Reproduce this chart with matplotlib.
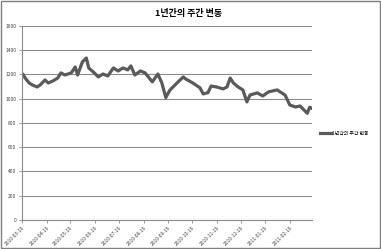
import matplotlib
matplotlib.use("Agg")
import matplotlib.pyplot as plt
import matplotlib.dates as mdates
import numpy as np
import datetime as dt

plt.rcParams['font.family'] = ['Noto Sans CJK KR', 'DejaVu Sans']

title = "1년간의 주간 변동"
series_name = "1년간의 주간 변동"
start_date = "2010-03-19"
day_offsets = [0, 1, 4, 9, 13, 19, 23, 29, 33, 39, 45, 49, 54, 62, 67, 70, 76, 81, 84, 91,
               96, 102, 108, 115, 121, 127, 133, 137, 142, 149, 155, 164, 171, 176, 181, 186,
               195, 203, 206, 215, 224, 228, 234, 238, 245, 253, 258, 262, 266, 272, 278, 283,
               287, 296, 303, 310, 321, 325, 331, 337, 344, 350, 359, 362, 365]
values = [1200, 1204, 1171, 1130, 1114, 1097, 1114, 1155, 1130, 1147, 1171, 1213, 1196, 1213,
          1262, 1196, 1304, 1336, 1254, 1213, 1180, 1204, 1188, 1254, 1229, 1254, 1238, 1271,
          1196, 1229, 1213, 1139, 1204, 1130, 1010, 1070, 1130, 1180, 1163, 1130, 1090, 1040,
          1050, 1105, 1097, 1081, 1097, 1171, 1130, 1097, 1073, 974, 1031, 1048, 1023, 1056,
          1073, 1056, 1031, 949, 932, 940, 880, 930, 920]
tick_labels = ["2010-03-19", "2010-04-19", "2010-05-19", "2010-06-19", "2010-07-19",
               "2010-08-19", "2010-09-19", "2010-10-19", "2010-11-19", "2010-12-19",
               "2011-01-19", "2011-02-19"]
y_ticks = [0, 200, 400, 600, 800, 1000, 1200, 1400, 1600]

base = dt.datetime.strptime(start_date, "%Y-%m-%d")
dates = [base + dt.timedelta(days=d) for d in day_offsets]
tick_dates = [dt.datetime.strptime(s, "%Y-%m-%d") for s in tick_labels]

fig = plt.figure(figsize=(3.81, 2.49), dpi=100)
fig.patch.set_facecolor('white')
fig.patches.append(plt.Rectangle((0.003, 0.004), 0.994, 0.992, transform=fig.transFigure,
                                 fill=False, edgecolor='#7f7f7f', linewidth=1.0))

ax = fig.add_axes([0.0577, 0.1165, 0.7613, 0.7791])
line, = ax.plot(dates, values, color='#5a5a5a', linewidth=2.3, solid_joinstyle='round',
                label=series_name)
ax.set_xlim(base, base + dt.timedelta(days=365))
ax.set_ylim(0, 1600)
ax.set_yticks(y_ticks)
ax.set_yticklabels([str(v) for v in y_ticks], fontsize=3.5, color='#404040')
ax.set_xticks(tick_dates)
ax.set_xticklabels(tick_labels, fontsize=3.5, rotation=45, ha='right', rotation_mode='anchor',
                   color='#404040')
ax.grid(axis='y', color='#8c8c8c', linewidth=0.8)
ax.set_axisbelow(True)
for s in ['top', 'right']:
    ax.spines[s].set_visible(False)
for s in ['left', 'bottom']:
    ax.spines[s].set_color('#8c8c8c')
    ax.spines[s].set_linewidth(0.8)
ax.tick_params(axis='both', length=2.5, width=0.6, color='#8c8c8c', pad=1.5)

fig.text(0.495, 0.945, title, ha='center', va='center', fontsize=6.5, fontweight='bold')
fig.legend(handles=[line], labels=[series_name], loc='center left',
           bbox_to_anchor=(0.835, 0.465), frameon=False, fontsize=3.5,
           handlelength=2.2, borderaxespad=0, handletextpad=0.3)

fig.savefig("out.png", dpi=100)
